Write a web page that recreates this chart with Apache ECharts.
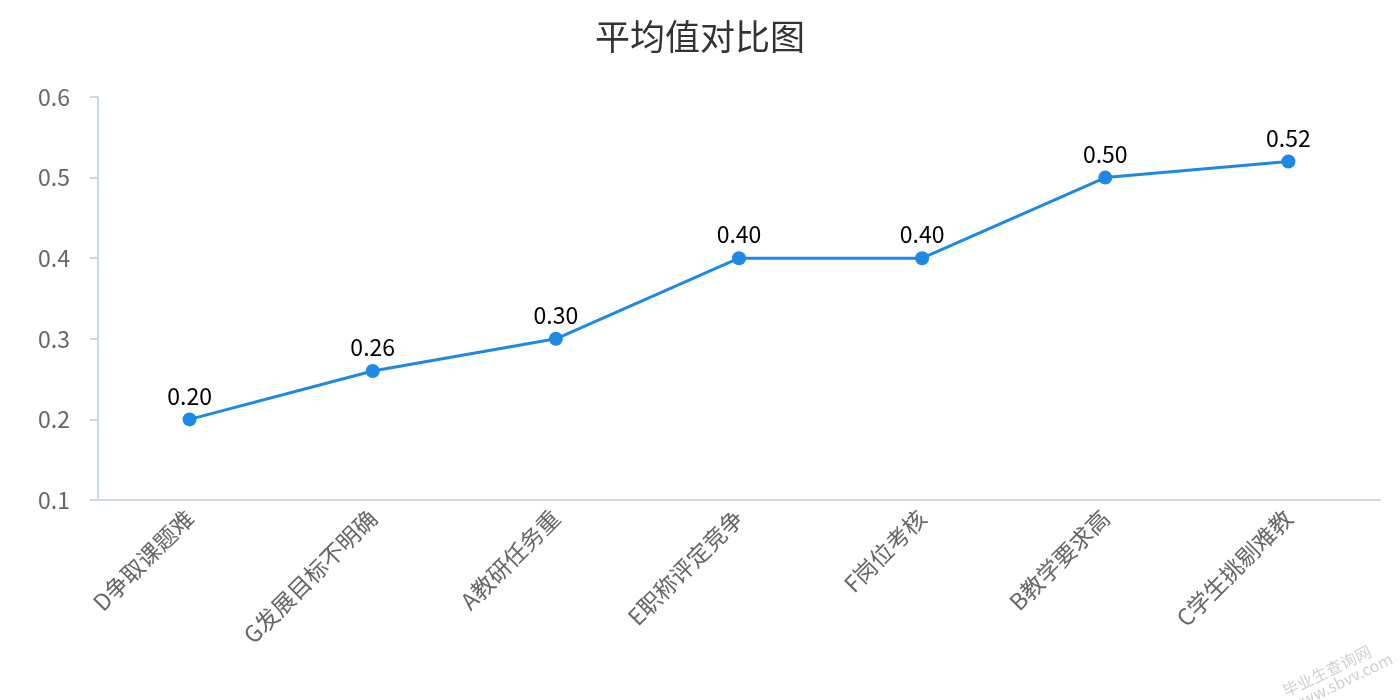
<!DOCTYPE html>
<html>
<head>
<meta charset="utf-8">
<title>平均值对比图</title>
<script src="https://cdn.jsdelivr.net/npm/echarts@6/dist/echarts.min.js"></script>
<style>
  html, body { margin: 0; padding: 0; background: #fff; }
  #main { width: 1400px; height: 700px; }
</style>
</head>
<body>
<div id="main"></div>
<script>
// 类别与平均值
var categories = ['D争取课题难', 'G发展目标不明确', 'A教研任务重', 'E职称评定竞争', 'F岗位考核', 'B教学要求高', 'C学生挑剔难教'];
var avgValues = [0.20, 0.26, 0.30, 0.40, 0.40, 0.50, 0.52];
var yTicks = { min: 0.1, max: 0.6, step: 0.1 };

var font = '"Noto Sans CJK SC", "Noto Sans", sans-serif';

var myCharts = echarts.init(document.getElementById('main'));
var option = {
  title: {
    text: '平均值对比图',
    left: 'center',
    top: 14,
    textStyle: { fontSize: 35, fontWeight: 'normal', color: '#333', fontFamily: font }
  },
  grid: { left: 98, right: 20, top: 97, bottom: 200 },
  xAxis: {
    type: 'category',
    data: categories,
    boundaryGap: true,
    axisLine: { lineStyle: { color: '#ccd6eb', width: 2 } },
    axisTick: { show: false },
    axisLabel: { rotate: 45, fontSize: 23, color: '#666', margin: 14, fontFamily: font, interval: 0 }
  },
  yAxis: {
    type: 'value',
    min: yTicks.min,
    max: yTicks.max,
    interval: yTicks.step,
    axisLine: { show: true, lineStyle: { color: '#ccd6eb', width: 2 } },
    axisTick: { show: true, length: 8, lineStyle: { color: '#ccd6eb', width: 2 } },
    splitLine: { show: false },
    axisLabel: {
      fontSize: 23, color: '#666', margin: 28, fontFamily: font,
      formatter: function (v) { return (Math.round(v * 10) / 10).toString(); }
    }
  },
  series: [{
    name: '平均值',
    type: 'line',
    data: avgValues,
    symbol: 'circle',
    symbolSize: 14,
    itemStyle: { color: '#1e88e5' },
    lineStyle: { color: '#1e88e5', width: 3 },
    label: {
      show: true,
      position: 'top',
      distance: 5,
      fontSize: 23,
      color: '#000',
      fontFamily: font,
      formatter: function (p) { return p.value.toFixed(2); }
    }
  }],
  graphic: [{
    type: 'text',
    left: 1280,
    top: 636,
    rotation: Math.PI / 7,
    style: { text: '毕业生查询网\nwww.sbvv.com', fill: 'rgba(0,0,0,0.2)', font: '16px ' + font }
  }]
};
myCharts.setOption(option);
</script>
</body>
</html>
